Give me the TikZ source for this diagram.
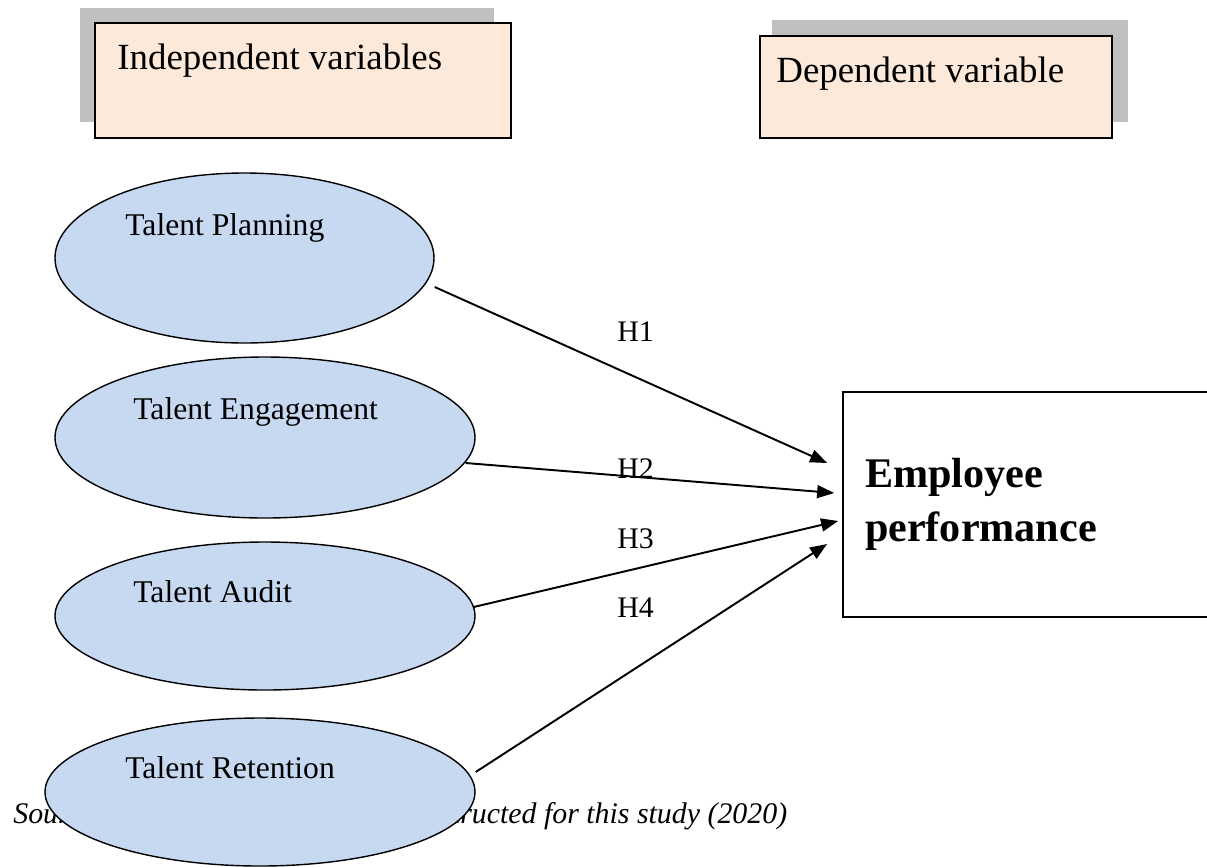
\documentclass[tikz,border=0pt]{standalone}
\usepackage{fontspec}
\setmainfont{Liberation Serif}
\usetikzlibrary{shapes.geometric,arrows.meta}

\definecolor{peach}{HTML}{FDE9D9}
\definecolor{shadowgray}{HTML}{BFBFBF}
\definecolor{lightblue}{HTML}{C6D9F1}

\tikzset{
  varellipse/.style={ellipse, draw, line width=0.8pt, fill=lightblue, inner sep=0pt},
  varname/.style={anchor=base west, inner sep=0pt, font=\fontsize{18}{21}\selectfont},
  heading/.style={anchor=base west, inner sep=0pt, font=\fontsize{21}{24}\selectfont},
  hyp/.style={-{Triangle[length=0.34cm,width=0.26cm]}, line width=1.1pt},
  hyplabel/.style={anchor=base west, inner sep=0pt, font=\fontsize{17}{20}\selectfont},
}

\begin{document}
\begin{tikzpicture}
  \useasboundingbox (0,0) rectangle (24.14,-17.34);

  % Header boxes with drop shadows
  \fill[shadowgray] (1.6,-0.16) rectangle (9.88,-2.44);
  \draw[fill=peach, line width=1pt] (1.9,-0.46) rectangle (10.22,-2.76);
  \node[heading] (indep) at (2.34,-1.38) {Independent variables};

  \fill[shadowgray] (15.44,-0.4) rectangle (22.56,-2.44);
  \draw[fill=peach, line width=1pt] (15.2,-0.72) rectangle (22.24,-2.76);
  \node[heading] (dep) at (15.52,-1.64) {Dependent variable};

  % Source line (partly hidden behind the last ellipse)
  \node[anchor=base west, inner sep=0pt, font=\fontsize{17}{20}\selectfont\itshape]
    (source) at (0.26,-16.46) {Source: Conceptual framework constructed for this study (2020)};

  % Independent variables
  \node[varellipse, minimum width=7.58cm, minimum height=3.4cm]  (plan)   at (4.89,-5.16) {};
  \node[varellipse, minimum width=8.4cm,  minimum height=3.22cm] (engage) at (5.3,-8.75) {};
  \node[varellipse, minimum width=8.4cm,  minimum height=2.96cm] (audit)  at (5.3,-12.32) {};
  \node[varellipse, minimum width=8.6cm,  minimum height=2.96cm] (retain) at (5.2,-15.84) {};

  \node[varname] (plantext)   at (2.5,-4.7)    {Talent Planning};
  \node[varname] (engagetext) at (2.66,-8.38)  {Talent Engagement};
  \node[varname] (audittext)  at (2.66,-12.04) {Talent Audit};
  \node[varname] (retaintext) at (2.5,-15.56)  {Talent Retention};

  % Dependent variable
  \node[draw, line width=1pt, minimum height=4.5cm, text width=7.76cm, inner xsep=0.44cm,
        align=left, font=\fontsize{24}{31}\selectfont\bfseries]
    (perf) at (21.18,-10.09) {Employee\\performance};

  % Hypotheses
  \foreach \from/\sx/\sy/\tx/\ty in {plan/0/-0.58/-0.3/0.83, engage/-0.2/-0.51/-0.16/0.23,
                                     audit/-0.04/0.18/-0.08/-0.33, retain/0/0.4/-0.3/-0.79}
    \draw[hyp] ([shift={(\sx,\sy)}]\from.east) -- ([shift={(\tx,\ty)}]perf.west);

  \foreach \i/\y in {1/-6.82, 2/-9.56, 3/-10.96, 4/-12.34}
    \node[hyplabel] (h\i) at (12.34,\y) {H\i};
\end{tikzpicture}
\end{document}
